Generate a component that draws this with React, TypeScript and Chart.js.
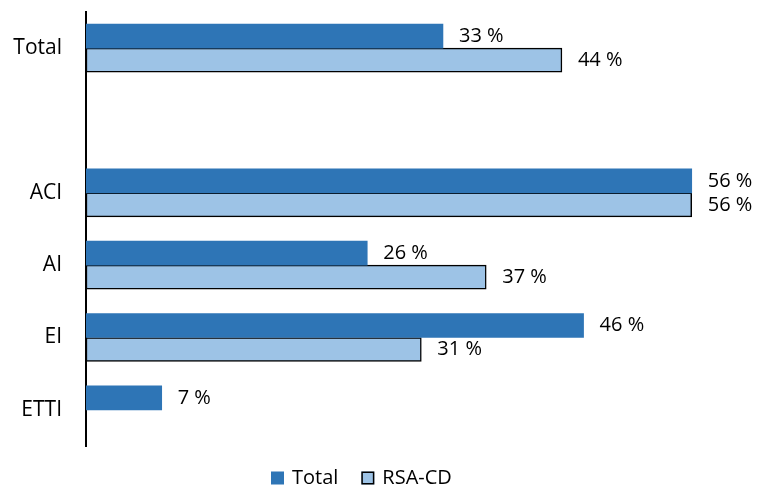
import React, { useEffect, useRef } from "react";
import { Chart, registerables } from "chart.js";

Chart.register(...registerables);

const categories = ["Total", "", "ACI", "AI", "EI", "ETTI"];
const totalValues = [33, null, 56, 26, 46, 7];
const rsaValues = [44, null, 56, 37, 31, null];
const seriesNames = ["Total", "RSA-CD"];
const xMax = 60;

const FONT = "'Open Sans', 'Noto Sans', sans-serif";

// Writes "NN %" just past the end of every bar
const valueLabels = {
  id: "valueLabels",
  afterDatasetsDraw(chart: any) {
    const ctx = chart.ctx;
    ctx.save();
    ctx.font = `20px ${FONT}`;
    ctx.fillStyle = "#000";
    ctx.textAlign = "left";
    ctx.textBaseline = "middle";
    chart.data.datasets.forEach((ds: any, di: number) => {
      const meta = chart.getDatasetMeta(di);
      meta.data.forEach((bar: any, i: number) => {
        const v = ds.data[i];
        if (v === null || v === undefined) return;
        ctx.fillText(`${v} %`, bar.x + 16, bar.y);
      });
    });
    ctx.restore();
  },
};

// Series key under the plot: square swatch followed by the series name
const bottomLegend = {
  id: "bottomLegend",
  afterDraw(chart: any) {
    const ctx = chart.ctx;
    ctx.save();
    ctx.font = `20px ${FONT}`;
    ctx.textAlign = "left";
    ctx.textBaseline = "middle";
    const box = 13;
    const cy = chart.chartArea.bottom + 32;
    let x = 271;
    chart.data.datasets.forEach((ds: any, i: number) => {
      ctx.fillStyle = ds.backgroundColor;
      ctx.fillRect(x, cy - box / 2, box, box);
      if (ds.borderWidth) {
        ctx.strokeStyle = ds.borderColor;
        ctx.lineWidth = 1.5;
        ctx.strokeRect(x + 0.75, cy - box / 2 + 0.75, box - 1.5, box - 1.5);
      }
      ctx.fillStyle = "#000";
      const tx = x + box + 8;
      ctx.fillText(ds.label, tx, cy);
      x = tx + ctx.measureText(ds.label).width + 23;
    });
    ctx.restore();
  },
};

export default function App() {
  const ref = useRef<HTMLCanvasElement>(null);

  useEffect(() => {
    document.body.style.margin = "0";
    const chart = new Chart(ref.current!, {
      type: "bar",
      data: {
        labels: categories,
        datasets: [
          {
            label: seriesNames[0],
            data: totalValues,
            backgroundColor: "#2E75B6",
            borderWidth: 0,
            barThickness: 24,
          },
          {
            label: seriesNames[1],
            data: rsaValues,
            backgroundColor: "#9DC3E6",
            borderColor: "#000",
            borderWidth: 1.5,
            borderSkipped: false,
            barThickness: 24,
          },
        ],
      },
      options: {
        indexAxis: "y",
        animation: false,
        responsive: false,
        layout: { padding: { top: 12, right: 36, left: 0, bottom: 42 } },
        scales: {
          x: {
            display: false,
            min: 0,
            max: xMax,
          },
          y: {
            grid: { display: false, drawTicks: false },
            border: { display: true, color: "#000", width: 2 },
            ticks: {
              color: "#000",
              padding: 24,
              font: { family: FONT, size: 21 },
            },
            afterFit(scale: any) {
              scale.width = 86;
              scale.paddingTop = 0;
              scale.paddingBottom = 0;
            },
          },
        },
        plugins: {
          legend: { display: false },
          tooltip: { enabled: false },
        },
      },
      plugins: [valueLabels, bottomLegend],
    });
    return () => chart.destroy();
  }, []);

  return <canvas ref={ref} width={771} height={488} style={{ display: "block" }} />;
}
